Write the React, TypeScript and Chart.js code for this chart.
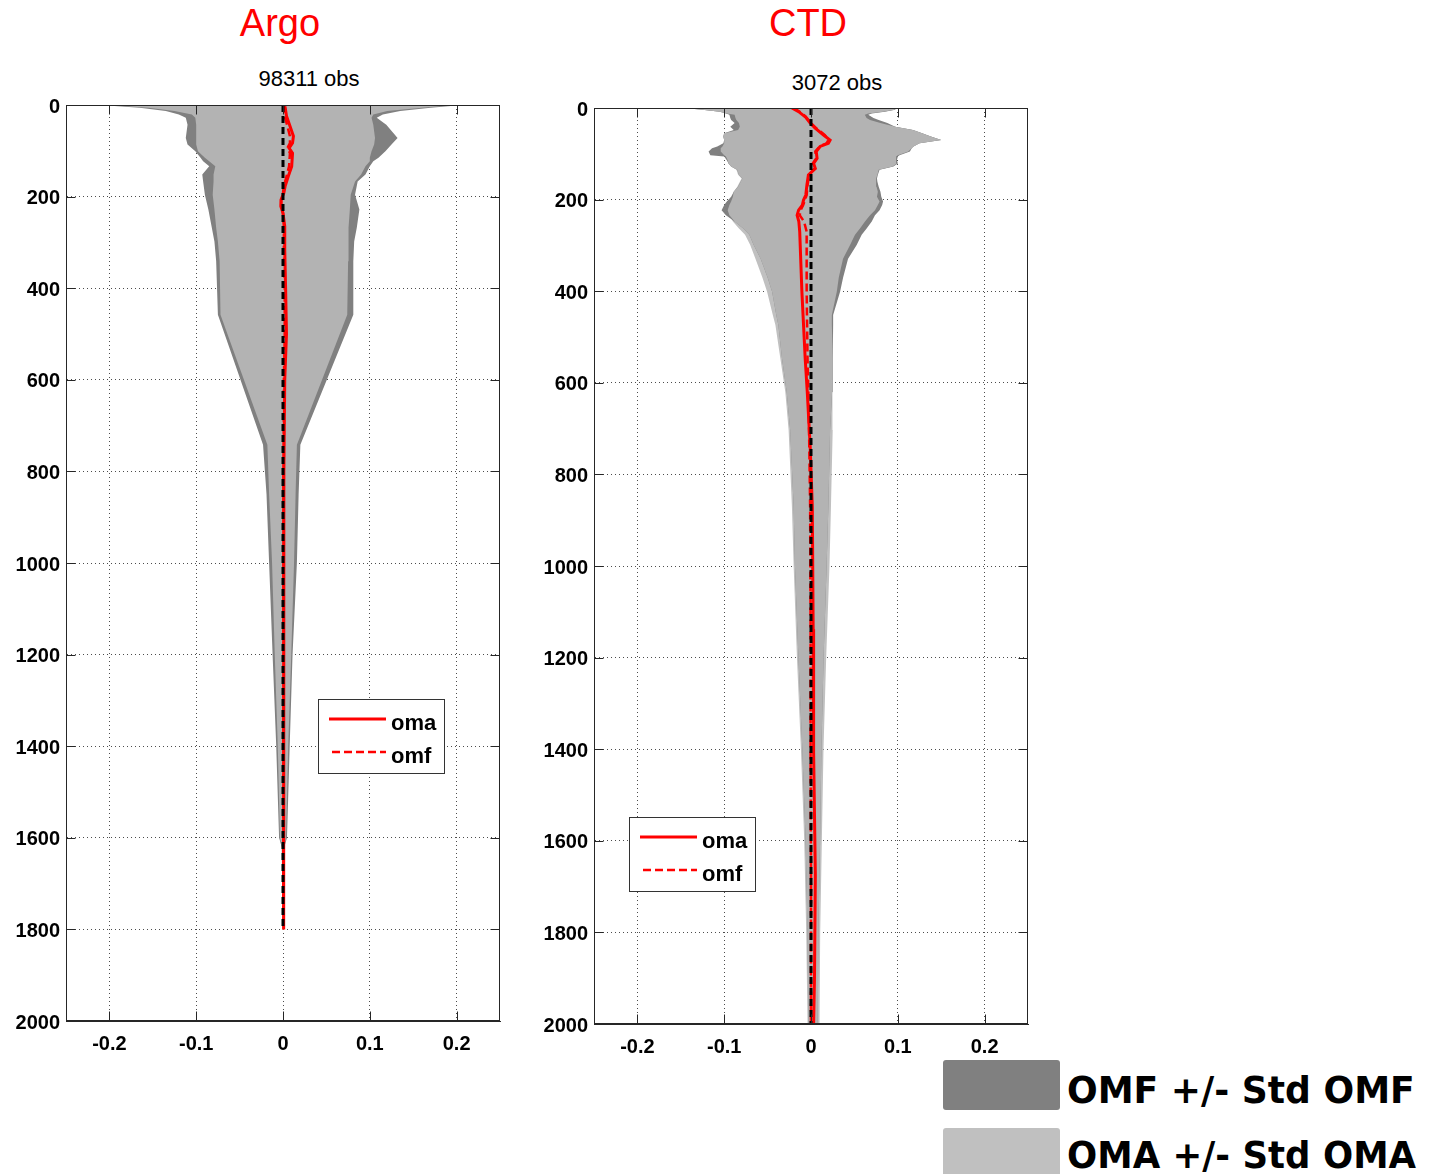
import React, { useEffect, useRef } from 'react';
import { Chart, registerables } from 'chart.js';

Chart.register(...registerables);

// ---------------- axes ----------------
const xTickValues = [-0.2, -0.1, 0, 0.1, 0.2];
const xTickLabels = ['-0.2', '-0.1', '0', '0.1', '0.2'];
const depthTickValues = [0, 200, 400, 600, 800, 1000, 1200, 1400, 1600, 1800, 2000];
const depthTickLabels = ['0', '200', '400', '600', '800', '1000', '1200', '1400', '1600', '1800', '2000'];
const legendLabels = ['oma', 'omf'];
const bandLegend = ['OMF +/- Std OMF', 'OMA +/- Std OMA'];

// ---------------- Argo ----------------
const argoTitle = 'Argo';
const argoObs = '98311 obs';
const argoBandDepth = [0, 3, 6, 13, 21, 28, 43, 72, 86, 101, 115, 123, 134, 152, 167, 196, 228, 268, 298, 341, 458, 742, 850, 1000, 1200, 1400, 1600, 1620, 1700, 1800];
const argoOmfLo = [-0.21, -0.19, -0.165, -0.135, -0.12, -0.112, -0.11, -0.112, -0.11, -0.101,
  -0.095, -0.092, -0.085, -0.093, -0.092, -0.09, -0.086, -0.082, -0.079, -0.077,
  -0.075, -0.023, -0.019, -0.016, -0.012, -0.0078, -0.0045, -0.0015, -0.001, -0.0008];
const argoOmaLo = [-0.205, -0.18, -0.155, -0.125, -0.105, -0.101, -0.1, -0.1, -0.1, -0.098,
  -0.09, -0.085, -0.078, -0.08, -0.08, -0.081, -0.079, -0.077, -0.075, -0.073,
  -0.072, -0.018, -0.016, -0.0126, -0.0095, -0.006, -0.0035, -0.0012, -0.0008, -0.0006];
const argoOmfHi = [0.207, 0.19, 0.17, 0.135, 0.115, 0.108, 0.119, 0.132, 0.125, 0.118,
  0.11, 0.104, 0.1, 0.095, 0.086, 0.083, 0.088, 0.085, 0.082, 0.081,
  0.081, 0.02, 0.018, 0.016, 0.011, 0.0077, 0.0046, 0.0015, 0.001, 0.0008];
const argoOmaHi = [0.2, 0.18, 0.16, 0.12, 0.104, 0.102, 0.104, 0.106, 0.105, 0.102,
  0.1, 0.1, 0.095, 0.09, 0.083, 0.078, 0.077, 0.076, 0.075, 0.075,
  0.074, 0.016, 0.0145, 0.0127, 0.0095, 0.006, 0.0035, 0.0012, 0.0008, 0.0006];
const argoLineDepth = [0, 3, 24, 46, 68, 83, 94, 105, 134, 156, 177, 192, 207, 221, 236, 265, 316, 400, 500, 600, 800, 1000, 1200, 1400, 1600, 1800];
const argoOma = [0.002, 0.0023, 0.004, 0.008, 0.012, 0.011, 0.007, 0.011, 0.01, 0.006, 0.0025, 0.001, -0.0023, -0.0025, 0, 0.002, 0.002, 0.003, 0.004, 0.002, 0.001, 0.001, 0.001, 0.0008, 0.0005, 0.0005];
const argoOmf = [0.001, 0.001, 0.002, 0.005, 0.008, 0.008, 0.005, 0.008, 0.007, 0.004, 0.001, 0, -0.002, -0.002, 0, 0.001, 0.001, 0.002, 0.002, 0.001, 0.0008, 0.0008, 0.0008, 0.0006, 0.0004, 0.0004];
const argoZeroDepth = [0, 1800];
const argoZero = [0, 0];

// ---------------- CTD ----------------
const ctdTitle = 'CTD';
const ctdObs = '3072 obs';
const ctdBandDepth = [0, 4, 8, 12, 15, 22, 26, 33, 41, 48, 55, 62, 70, 77, 84, 88, 95, 103, 106, 114, 121, 128, 135, 146, 154, 161, 172, 183, 194, 204, 212, 223, 234, 248, 263, 277, 299, 329, 370, 401, 452, 474, 547, 620, 703, 870, 1000, 1200, 1400, 1600, 1800, 2000];
const ctdOmfLo = [-0.146, -0.125, -0.105, -0.098, -0.094, -0.093, -0.092, -0.088, -0.093, -0.089,
  -0.100, -0.101, -0.100, -0.101, -0.108, -0.114, -0.118, -0.116, -0.100, -0.097,
  -0.095, -0.092, -0.085, -0.083, -0.079, -0.081, -0.084, -0.089, -0.092, -0.097,
  -0.100, -0.103, -0.098, -0.088, -0.078, -0.071, -0.066, -0.058, -0.050, -0.0448,
  -0.040, -0.0376, -0.0334, -0.028, -0.024, -0.020, -0.0185, -0.0145, -0.010, -0.0062,
  -0.004, -0.003];
const ctdOmaLo = [-0.146, -0.125, -0.105, -0.097, -0.088, -0.087, -0.086, -0.083, -0.082, -0.084,
  -0.100, -0.101, -0.100, -0.100, -0.102, -0.104, -0.104, -0.100, -0.098, -0.096,
  -0.095, -0.092, -0.086, -0.084, -0.080, -0.082, -0.085, -0.089, -0.090, -0.092,
  -0.094, -0.096, -0.094, -0.090, -0.083, -0.076, -0.070, -0.064, -0.056, -0.0506,
  -0.044, -0.041, -0.0353, -0.0296, -0.0258, -0.022, -0.020, -0.0162, -0.0116, -0.0078,
  -0.0055, -0.004];
const ctdOmfHi = [0.098, 0.097, 0.085, 0.070, 0.066, 0.072, 0.078, 0.088, 0.097, 0.1175,
  0.128, 0.138, 0.150, 0.125, 0.118, 0.116, 0.114, 0.102, 0.100, 0.099,
  0.100, 0.095, 0.079, 0.077, 0.076, 0.0765, 0.078, 0.080, 0.081, 0.083,
  0.082, 0.079, 0.0737, 0.070, 0.0641, 0.0584, 0.0526, 0.0427, 0.037, 0.0335,
  0.0255, 0.0255, 0.0251, 0.0243, 0.022, 0.020, 0.018, 0.0145, 0.012, 0.0105,
  0.0085, 0.0078];
const ctdOmaHi = [0.0985, 0.096, 0.083, 0.066, 0.062, 0.064, 0.068, 0.080, 0.097, 0.1175,
  0.128, 0.138, 0.150, 0.125, 0.118, 0.116, 0.112, 0.100, 0.098, 0.098,
  0.099, 0.094, 0.078, 0.0765, 0.075, 0.075, 0.0755, 0.077, 0.076, 0.079,
  0.077, 0.0737, 0.068, 0.0622, 0.0564, 0.0507, 0.045, 0.0369, 0.032, 0.0297,
  0.024, 0.024, 0.0251, 0.0243, 0.025, 0.023, 0.0213, 0.0175, 0.0144, 0.0125,
  0.0106, 0.0098];
const ctdLineDepth = [0, 8, 19, 33, 44, 59, 70, 77, 84, 95, 110, 121, 132, 146, 168, 190, 201, 212, 223, 234, 248, 270, 401, 547, 620, 737, 870, 1138, 1406, 1674, 1900, 2000];
const ctdOma = [-0.022, -0.0143, -0.0067, -0.001, 0.0048, 0.0144, 0.022, 0.02, 0.0105, 0.006,
  0.007, 0.003, 0.005, -0.003, -0.0047, -0.006, -0.0086, -0.01, -0.0143, -0.016,
  -0.014, -0.013, -0.0105, -0.0067, -0.0043, -0.001, 0.0015, 0.0025, 0.003, 0.005,
  0.004, 0.003];
const ctdOmf = [-0.02, -0.013, -0.006, 0, 0.006, 0.016, 0.02, 0.018, 0.01, 0.005,
  0.006, 0.002, 0.004, -0.002, -0.004, -0.005, -0.007, -0.009, -0.012, -0.013,
  -0.008, -0.005, -0.005, -0.004, -0.003, -0.002, -0.001, -0.0005, -0.0005, 0,
  0, 0];
const ctdZeroDepth = [0, 2000];
const ctdZero = [0, 0];

// ---------------- helpers ----------------
const OMF_COLOR = '#808080';
const OMA_COLOR = '#c0c0c0';
const BOTH_COLOR = '#b3b3b3';
const FONT = '"Liberation Sans", Arial, Helvetica, sans-serif';

const band = (depth: number[], lo: number[], hi: number[]) => [
  ...depth.map((d, i) => ({ x: lo[i], y: d })),
  ...depth.map((d, i) => ({ x: hi[i], y: d })).reverse(),
];
const profile = (depth: number[], vals: number[]) => depth.map((d, i) => ({ x: vals[i], y: d }));
const maxOf = (a: number[], b: number[]) => a.map((v, i) => Math.max(v, b[i]));
const minOf = (a: number[], b: number[]) => a.map((v, i) => Math.min(v, b[i]));

const framePlugin = {
  id: 'matlabFrame',
  afterDatasetsDraw(chart: any) {
    const { ctx, chartArea } = chart;
    const l = Math.round(chartArea.left) + 0.5;
    const r = Math.round(chartArea.right) - 0.5;
    const t = Math.round(chartArea.top) + 0.5;
    const b = Math.round(chartArea.bottom) - 0.5;
    const xs = chart.scales.x;
    const ys = chart.scales.y;
    ctx.save();
    ctx.strokeStyle = '#262626';
    ctx.lineWidth = 1;
    ctx.setLineDash([]);
    ctx.strokeRect(l, t, r - l, b - t);
    const tl = 9;
    ctx.beginPath();
    xTickValues.forEach((v) => {
      const px = Math.round(xs.getPixelForValue(v)) + 0.5;
      ctx.moveTo(px, b); ctx.lineTo(px, b - tl);
      ctx.moveTo(px, t); ctx.lineTo(px, t + tl);
    });
    depthTickValues.forEach((v) => {
      const py = Math.round(ys.getPixelForValue(v)) + 0.5;
      ctx.moveTo(l, py); ctx.lineTo(l + tl, py);
      ctx.moveTo(r, py); ctx.lineTo(r - tl, py);
    });
    ctx.stroke();
    ctx.restore();
  },
};

const makeLegendPlugin = (dx: number, dy: number) => ({
  id: 'lineLegend',
  afterDraw(chart: any) {
    const { ctx, chartArea } = chart;
    const x0 = Math.round(chartArea.left + dx);
    const y0 = Math.round(chartArea.top + dy);
    const w = 126;
    const h = 74;
    ctx.save();
    ctx.fillStyle = '#ffffff';
    ctx.fillRect(x0, y0, w, h);
    ctx.strokeStyle = '#333333';
    ctx.lineWidth = 1;
    ctx.setLineDash([]);
    ctx.strokeRect(x0 + 0.5, y0 + 0.5, w, h);
    const items = legendLabels
      .map((l) => chart.data.datasets.find((ds: any) => ds.label === l))
      .filter(Boolean);
    items.forEach((ds: any, i: number) => {
      const ly = y0 + 20 + i * 33;
      ctx.strokeStyle = ds.borderColor;
      ctx.lineWidth = ds.borderWidth;
      ctx.setLineDash(ds.borderDash || []);
      ctx.beginPath();
      ctx.moveTo(x0 + (ds.borderDash ? 14 : 11), ly);
      ctx.lineTo(x0 + 68, ly);
      ctx.stroke();
      ctx.setLineDash([]);
      ctx.fillStyle = '#000000';
      ctx.font = `bold 22px ${FONT}`;
      ctx.textBaseline = 'alphabetic';
      ctx.textAlign = 'left';
      ctx.fillText(ds.label, x0 + 73, ly + 11);
    });
    ctx.restore();
  },
});

type PanelProps = {
  left: number;
  top: number;
  bandDepth: number[];
  omfLo: number[];
  omfHi: number[];
  omaLo: number[];
  omaHi: number[];
  lineDepth: number[];
  oma: number[];
  omf: number[];
  zeroDepth: number[];
  zero: number[];
  legendDx: number;
  legendDy: number;
};

const CW = 515;
const CH = 985;

function Panel(p: PanelProps) {
  const ref = useRef<HTMLCanvasElement | null>(null);
  useEffect(() => {
    if (!ref.current) return;
    const tickFont = { family: FONT, size: 20, weight: 'bold' };
    const polyStyle = {
      showLine: true,
      fill: 'shape',
      borderColor: 'rgba(0,0,0,0)',
      borderWidth: 0,
      pointRadius: 0,
    };
    const chart = new Chart(ref.current, {
      type: 'scatter',
      data: {
        datasets: [
          {
            ...polyStyle,
            label: bandLegend[1],
            data: band(p.bandDepth, p.omaLo, p.omaHi),
            backgroundColor: OMA_COLOR,
            order: 6,
          },
          {
            ...polyStyle,
            label: bandLegend[0],
            data: band(p.bandDepth, p.omfLo, p.omfHi),
            backgroundColor: OMF_COLOR,
            order: 5,
          },
          {
            ...polyStyle,
            label: 'overlap',
            data: band(p.bandDepth, maxOf(p.omfLo, p.omaLo), minOf(p.omfHi, p.omaHi)),
            backgroundColor: BOTH_COLOR,
            order: 4,
          },
          {
            label: 'omf',
            data: profile(p.lineDepth, p.omf),
            showLine: true,
            fill: false,
            borderColor: '#ff0000',
            borderWidth: 2.5,
            borderDash: [8, 4],
            pointRadius: 0,
            order: 3,
          },
          {
            label: 'oma',
            data: profile(p.lineDepth, p.oma),
            showLine: true,
            fill: false,
            borderColor: '#ff0000',
            borderWidth: 3,
            pointRadius: 0,
            order: 2,
          },
          {
            label: 'zero',
            data: profile(p.zeroDepth, p.zero),
            showLine: true,
            fill: false,
            borderColor: '#000000',
            borderWidth: 3,
            borderDash: [7, 4],
            pointRadius: 0,
            order: 1,
          },
        ],
      } as any,
      options: {
        animation: false,
        responsive: false,
        maintainAspectRatio: false,
        indexAxis: 'y',
        events: [],
        layout: { padding: { top: 20, right: 15, left: 0, bottom: 0 } },
        plugins: {
          legend: { display: false },
          tooltip: { enabled: false },
          title: { display: false },
        },
        scales: {
          x: {
            type: 'linear',
            position: 'bottom',
            min: -0.25,
            max: 0.25,
            afterBuildTicks: (s: any) => {
              s.ticks = xTickValues.map((v) => ({ value: v }));
            },
            afterFit: (s: any) => {
              s.height = 49;
            },
            ticks: {
              font: tickFont,
              color: '#000',
              padding: 11,
              maxRotation: 0,
              autoSkip: false,
              callback: (_v: any, i: number) => xTickLabels[i],
            },
            grid: { color: 'rgba(0,0,0,0.7)', lineWidth: 1, drawTicks: false },
            border: { display: true, color: '#262626', width: 1, dash: [1, 3] },
          },
          y: {
            type: 'linear',
            position: 'left',
            reverse: true,
            min: 0,
            max: 2000,
            afterBuildTicks: (s: any) => {
              s.ticks = depthTickValues.map((v) => ({ value: v }));
            },
            afterFit: (s: any) => {
              s.width = 66;
            },
            ticks: {
              font: tickFont,
              color: '#000',
              padding: 6,
              labelOffset: 2,
              autoSkip: false,
              callback: (_v: any, i: number) => depthTickLabels[i],
            },
            grid: { color: 'rgba(0,0,0,0.7)', lineWidth: 1, drawTicks: false },
            border: { display: true, color: '#262626', width: 1, dash: [1, 3] },
          },
        },
      } as any,
      plugins: [framePlugin, makeLegendPlugin(p.legendDx, p.legendDy)],
    });
    return () => chart.destroy();
  }, []);
  return (
    <canvas
      ref={ref}
      width={CW}
      height={CH}
      style={{ position: 'absolute', left: p.left, top: p.top, width: CW, height: CH }}
    />
  );
}

const textStyle = (cx: number, top: number, size: number, color: string, weight: string): React.CSSProperties => ({
  position: 'absolute',
  left: cx - 200,
  top,
  width: 400,
  textAlign: 'center',
  fontFamily: FONT,
  fontSize: size,
  fontWeight: weight as any,
  lineHeight: `${size}px`,
  color,
  whiteSpace: 'nowrap',
});

const legendText = (top: number, sx: number): React.CSSProperties => ({
  position: 'absolute',
  left: 1067,
  top,
  fontFamily: '"DejaVu Sans", Verdana, sans-serif',
  fontWeight: 'bold',
  fontSize: 38,
  lineHeight: '38px',
  color: '#000',
  whiteSpace: 'nowrap',
  transform: `scaleX(${sx})`,
  transformOrigin: 'left top',
});

export default function App() {
  return (
    <div
      style={{
        position: 'absolute',
        left: 0,
        top: 0,
        width: 1441,
        height: 1174,
        overflow: 'hidden',
        background: '#ffffff',
      }}
    >
      <div style={textStyle(280, 4, 38, '#ff0000', 'normal')}>{argoTitle}</div>
      <div style={textStyle(808, 4, 38, '#ff0000', 'normal')}>{ctdTitle}</div>
      <div style={textStyle(309, 68, 22, '#000', 'normal')}>{argoObs}</div>
      <div style={textStyle(837, 72, 22, '#000', 'normal')}>{ctdObs}</div>

      <Panel
        left={0}
        top={85}
        bandDepth={argoBandDepth}
        omfLo={argoOmfLo}
        omfHi={argoOmfHi}
        omaLo={argoOmaLo}
        omaHi={argoOmaHi}
        lineDepth={argoLineDepth}
        oma={argoOma}
        omf={argoOmf}
        zeroDepth={argoZeroDepth}
        zero={argoZero}
        legendDx={252}
        legendDy={594}
      />
      <Panel
        left={528}
        top={88}
        bandDepth={ctdBandDepth}
        omfLo={ctdOmfLo}
        omfHi={ctdOmfHi}
        omaLo={ctdOmaLo}
        omaHi={ctdOmaHi}
        lineDepth={ctdLineDepth}
        oma={ctdOma}
        omf={ctdOmf}
        zeroDepth={ctdZeroDepth}
        zero={ctdZero}
        legendDx={35}
        legendDy={709}
      />

      <div
        style={{ position: 'absolute', left: 943, top: 1060, width: 117, height: 50, background: '#808080', borderRadius: 3 }}
      />
      <div
        style={{ position: 'absolute', left: 943, top: 1128, width: 117, height: 50, background: '#c0c0c0', borderRadius: 3 }}
      />
      <div style={legendText(1071, 0.95)}>{bandLegend[0]}</div>
      <div style={legendText(1136, 0.936)}>{bandLegend[1]}</div>
    </div>
  );
}
